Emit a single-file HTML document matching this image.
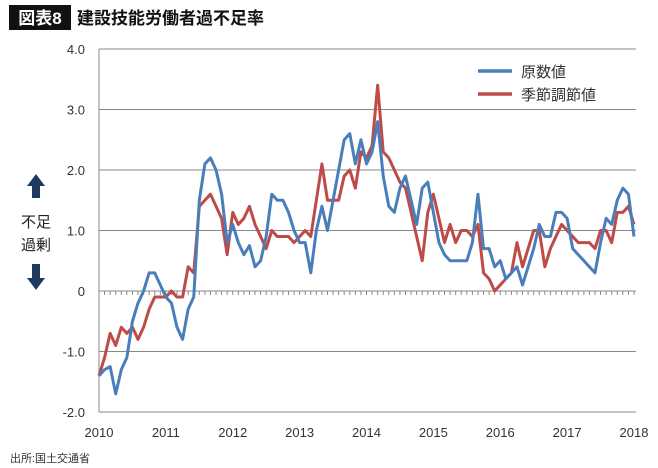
<!DOCTYPE html>
<html><head><meta charset="utf-8"><style>
body{margin:0;background:#fff;font-family:"Liberation Sans","Noto Sans CJK JP",sans-serif}
#wrap{position:relative;width:658px;height:468px;overflow:hidden}
</style></head><body>
<div id="wrap">
<svg id="c" width="658" height="468" xmlns="http://www.w3.org/2000/svg">
<rect x="9" y="5" width="62" height="25" fill="#111"/>
<text x="40" y="24" fill="#fff" font-size="17" font-weight="bold" text-anchor="middle" font-family="Liberation Sans,Noto Sans CJK JP,sans-serif">図表8</text>
<text x="77" y="24" fill="#111" font-size="17" font-weight="bold" font-family="Liberation Sans,Noto Sans CJK JP,sans-serif">建設技能労働者過不足率</text>
<g id="grid"></g><g id="yl"></g><g id="xl"></g><g id="ser"></g>
<g>
<line x1="478" y1="71" x2="512" y2="71" stroke="#4a7ebb" stroke-width="3.5"/>
<text x="521" y="77" font-size="15" fill="#333" font-family="Liberation Sans,Noto Sans CJK JP,sans-serif">原数値</text>
<line x1="478" y1="94" x2="512" y2="94" stroke="#be4b48" stroke-width="3.5"/>
<text x="521" y="100" font-size="15" fill="#333" font-family="Liberation Sans,Noto Sans CJK JP,sans-serif">季節調節値</text>
</g>
<g>
<polygon points="36,174 27,186 32,186 32,198 40,198 40,186 45,186" fill="#1f3a5f"/>
<text x="36" y="227" font-size="15" text-anchor="middle" fill="#222" font-family="Liberation Sans,Noto Sans CJK JP,sans-serif">不足</text>
<text x="36" y="250" font-size="15" text-anchor="middle" fill="#222" font-family="Liberation Sans,Noto Sans CJK JP,sans-serif">過剰</text>
<polygon points="36,290 27,278 32,278 32,264 40,264 40,278 45,278" fill="#1f3a5f"/>
</g>
<text x="10" y="462" font-size="11" fill="#333" font-family="Liberation Sans,Noto Sans CJK JP,sans-serif">出所:国土交通省</text>
</svg>
</div>
<script>
const yTicks=[4,3,2,1,0,-1,-2];
const yTickLabels=["4.0","3.0","2.0","1.0","0","-1.0","-2.0"];
const xYears=[2010,2011,2012,2013,2014,2015,2016,2017,2018];
const rawValues=[-1.4,-1.3,-1.25,-1.7,-1.3,-1.1,-0.5,-0.2,0,0.3,0.3,0.1,
-0.1,-0.2,-0.6,-0.8,-0.3,-0.1,1.5,2.1,2.2,2.0,1.6,0.8,
1.1,0.8,0.6,0.75,0.4,0.5,0.9,1.6,1.5,1.5,1.3,1.0,
0.8,0.8,0.3,1.0,1.4,1.0,1.5,2.0,2.5,2.6,2.1,2.5,
2.1,2.3,2.8,1.9,1.4,1.3,1.7,1.9,1.5,1.1,1.7,1.8,
1.3,0.8,0.6,0.5,0.5,0.5,0.5,0.8,1.6,0.7,0.7,0.4,
0.5,0.2,0.3,0.4,0.1,0.4,0.7,1.1,0.9,0.9,1.3,1.3,
1.2,0.7,0.6,0.5,0.4,0.3,0.8,1.2,1.1,1.5,1.7,1.6,0.9];
const saValues=[-1.4,-1.1,-0.7,-0.9,-0.6,-0.7,-0.6,-0.8,-0.6,-0.3,-0.1,-0.1,
-0.1,0,-0.1,-0.1,0.4,0.3,1.4,1.5,1.6,1.4,1.2,0.6,
1.3,1.1,1.2,1.4,1.1,0.9,0.7,1.0,0.9,0.9,0.9,0.8,
0.9,1.0,0.9,1.5,2.1,1.5,1.5,1.5,1.9,2.0,1.7,2.3,
2.2,2.4,3.4,2.3,2.2,2.0,1.8,1.7,1.3,0.9,0.5,1.3,
1.6,1.2,0.8,1.1,0.8,1.0,1.0,0.9,1.1,0.3,0.2,0.0,
0.1,0.2,0.3,0.8,0.4,0.7,1.0,1.0,0.4,0.7,0.9,1.1,
1.0,0.9,0.8,0.8,0.8,0.7,1.0,1.0,0.8,1.3,1.3,1.4,1.1];
const NS="http://www.w3.org/2000/svg";
const L=99,R=634,T=49,B=412,yMin=-2,yMax=4,nMonths=96;
function sx(i){return L+(R-L)*i/nMonths;}
function sy(v){return B-(v-yMin)/(yMax-yMin)*(B-T);}
function mk(tag,attrs,parent){const e=document.createElementNS(NS,tag);for(const k in attrs)e.setAttribute(k,attrs[k]);parent.appendChild(e);return e;}
const grid=document.getElementById('grid'),yl=document.getElementById('yl'),xl=document.getElementById('xl'),ser=document.getElementById('ser');
const ff="Liberation Sans,Noto Sans CJK JP,sans-serif";
let ax=mk('line',{x1:L,y1:T,x2:L,y2:B,stroke:'#888','stroke-width':1},grid);


yTicks.forEach((v,i)=>{
 const g=mk('line',{x1:L,y1:sy(v),x2:R+2,y2:sy(v),stroke:'#888','stroke-width':1},grid);
 
 
 const t=mk('text',{x:85,y:sy(v)+5,'font-size':13,'text-anchor':'end',fill:'#333','font-family':ff},yl);
 t.textContent=yTickLabels[i];
 
 
});
for(let i=0;i<=nMonths;i++){
 const tk=mk('line',{x1:sx(i),y1:sy(0),x2:sx(i),y2:sy(0)+4,stroke:'#888','stroke-width':1},grid);
 
 
}
xYears.forEach((yr,i)=>{
 const t=mk('text',{x:sx(i*12),y:437,'font-size':13,'text-anchor':'middle',fill:'#333','font-family':ff},xl);
 t.textContent=yr;
 
 
});
function line(vals,color,name){
 const p=mk('polyline',{points:vals.map((v,i)=>sx(i)+','+sy(v)).join(' '),fill:'none',stroke:color,'stroke-width':3,'stroke-linejoin':'round'},ser);
 
 
}
line(saValues,'#be4b48','series-seasonally-adjusted');
line(rawValues,'#4a7ebb','series-raw');
</script>
</body></html>
